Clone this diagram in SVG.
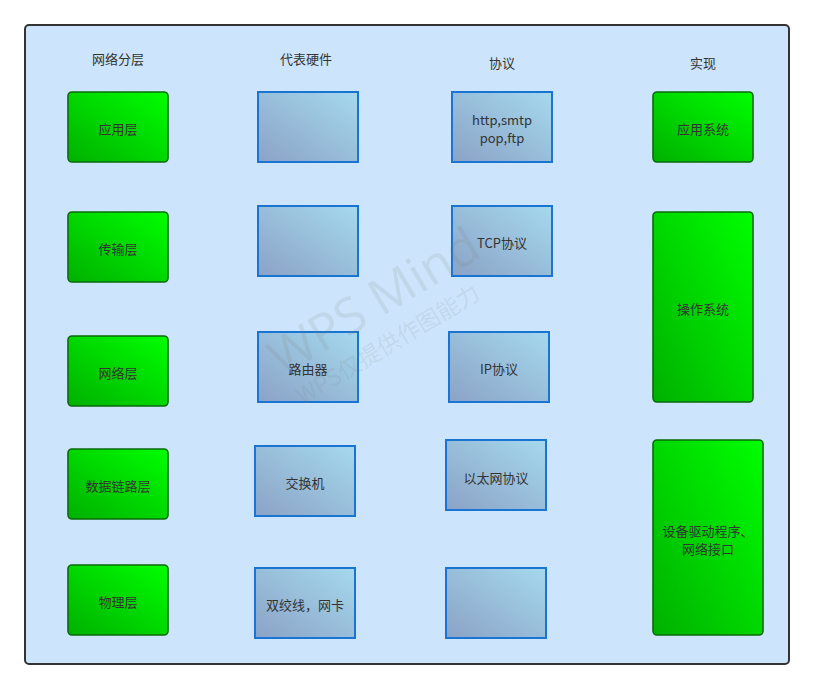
<svg xmlns="http://www.w3.org/2000/svg" width="814" height="690" viewBox="0 0 814 690">
<defs>
<linearGradient id="gGreen" x1="0" y1="1" x2="1" y2="0">
<stop offset="0" stop-color="#00b000"/>
<stop offset="1" stop-color="#00ff00"/>
</linearGradient>
<linearGradient id="gBlue" x1="0" y1="1" x2="1" y2="0">
<stop offset="0" stop-color="#8ba2c6"/>
<stop offset="1" stop-color="#a5d9ee"/>
</linearGradient>
<style>
text{font-family:"Noto Sans CJK SC","Liberation Sans",sans-serif;font-size:13px;fill:#333;text-anchor:middle;dominant-baseline:central}
.g{fill:url(#gGreen);stroke:#0a6a0a;stroke-width:1.6}
.b{fill:url(#gBlue);stroke:#1a74d2;stroke-width:2}
text.wm1{fill:#808080;fill-opacity:0.15;font-family:"Open Sans","Liberation Sans",sans-serif;font-size:50px}
text.wm2{fill:#808080;fill-opacity:0.15;font-family:"Noto Sans CJK SC","Open Sans",sans-serif;font-size:23px}
</style>
</defs>
<rect x="0" y="0" width="814" height="690" fill="#ffffff"/>
<g id="container">
<rect x="25" y="25" width="764" height="639" rx="4" fill="#cce5fc" stroke="#333" stroke-width="2"/>
</g>
<g id="headers">
<text x="118" y="58">网络分层</text>
<text x="306" y="58">代表硬件</text>
<text x="502" y="62">协议</text>
<text x="703" y="62">实现</text>
</g>
<g id="connectors"></g>
<g id="n-app"><rect class="g" x="68" y="92" width="100" height="70" rx="4"/><text x="118" y="128">应用层</text></g>
<g id="n-trans"><rect class="g" x="68" y="212" width="100" height="70" rx="4"/><text x="118" y="248">传输层</text></g>
<g id="n-net"><rect class="g" x="68" y="336" width="100" height="70" rx="4"/><text x="118" y="372">网络层</text></g>
<g id="n-link"><rect class="g" x="68" y="449" width="100" height="70" rx="4"/><text x="118" y="485">数据链路层</text></g>
<g id="n-phy"><rect class="g" x="68" y="565" width="100" height="70" rx="4"/><text x="118" y="601">物理层</text></g>

<g id="h-1"><rect class="b" x="258" y="92" width="100" height="70"/></g>
<g id="h-2"><rect class="b" x="258" y="206" width="100" height="70"/></g>
<g id="h-router"><rect class="b" x="258" y="332" width="100" height="70"/><text x="308" y="368">路由器</text></g>
<g id="h-switch"><rect class="b" x="255" y="446" width="100" height="70"/><text x="305" y="482">交换机</text></g>
<g id="h-cable"><rect class="b" x="255" y="568" width="100" height="70"/><text x="305" y="604">双绞线，网卡</text></g>

<g id="p-http"><rect class="b" x="452" y="92" width="100" height="70"/><text x="502" y="119">http,smtp</text><text x="502" y="137">pop,ftp</text></g>
<g id="p-tcp"><rect class="b" x="452" y="206" width="100" height="70"/><text x="502" y="242">TCP协议</text></g>
<g id="p-ip"><rect class="b" x="449" y="332" width="100" height="70"/><text x="499" y="368">IP协议</text></g>
<g id="p-eth"><rect class="b" x="446" y="440" width="100" height="70"/><text x="496" y="477">以太网协议</text></g>
<g id="p-5"><rect class="b" x="446" y="568" width="100" height="70"/></g>

<g id="i-app"><rect class="g" x="653" y="92" width="100" height="70" rx="4"/><text x="703" y="128">应用系统</text></g>
<g id="i-os"><rect class="g" x="653" y="212" width="100" height="190" rx="4"/><text x="703" y="308">操作系统</text></g>
<g id="i-drv"><rect class="g" x="653" y="440" width="110" height="195" rx="4"/><text x="708" y="530">设备驱动程序、</text><text x="708" y="548">网络接口</text></g>

<g id="watermark">
<text class="wm1" x="373" y="300" transform="rotate(-31 373 300)">WPS Mind</text>
<text class="wm2" x="387" y="343" transform="rotate(-31 387 343)">WPS仅提供作图能力</text>
</g>
</svg>
